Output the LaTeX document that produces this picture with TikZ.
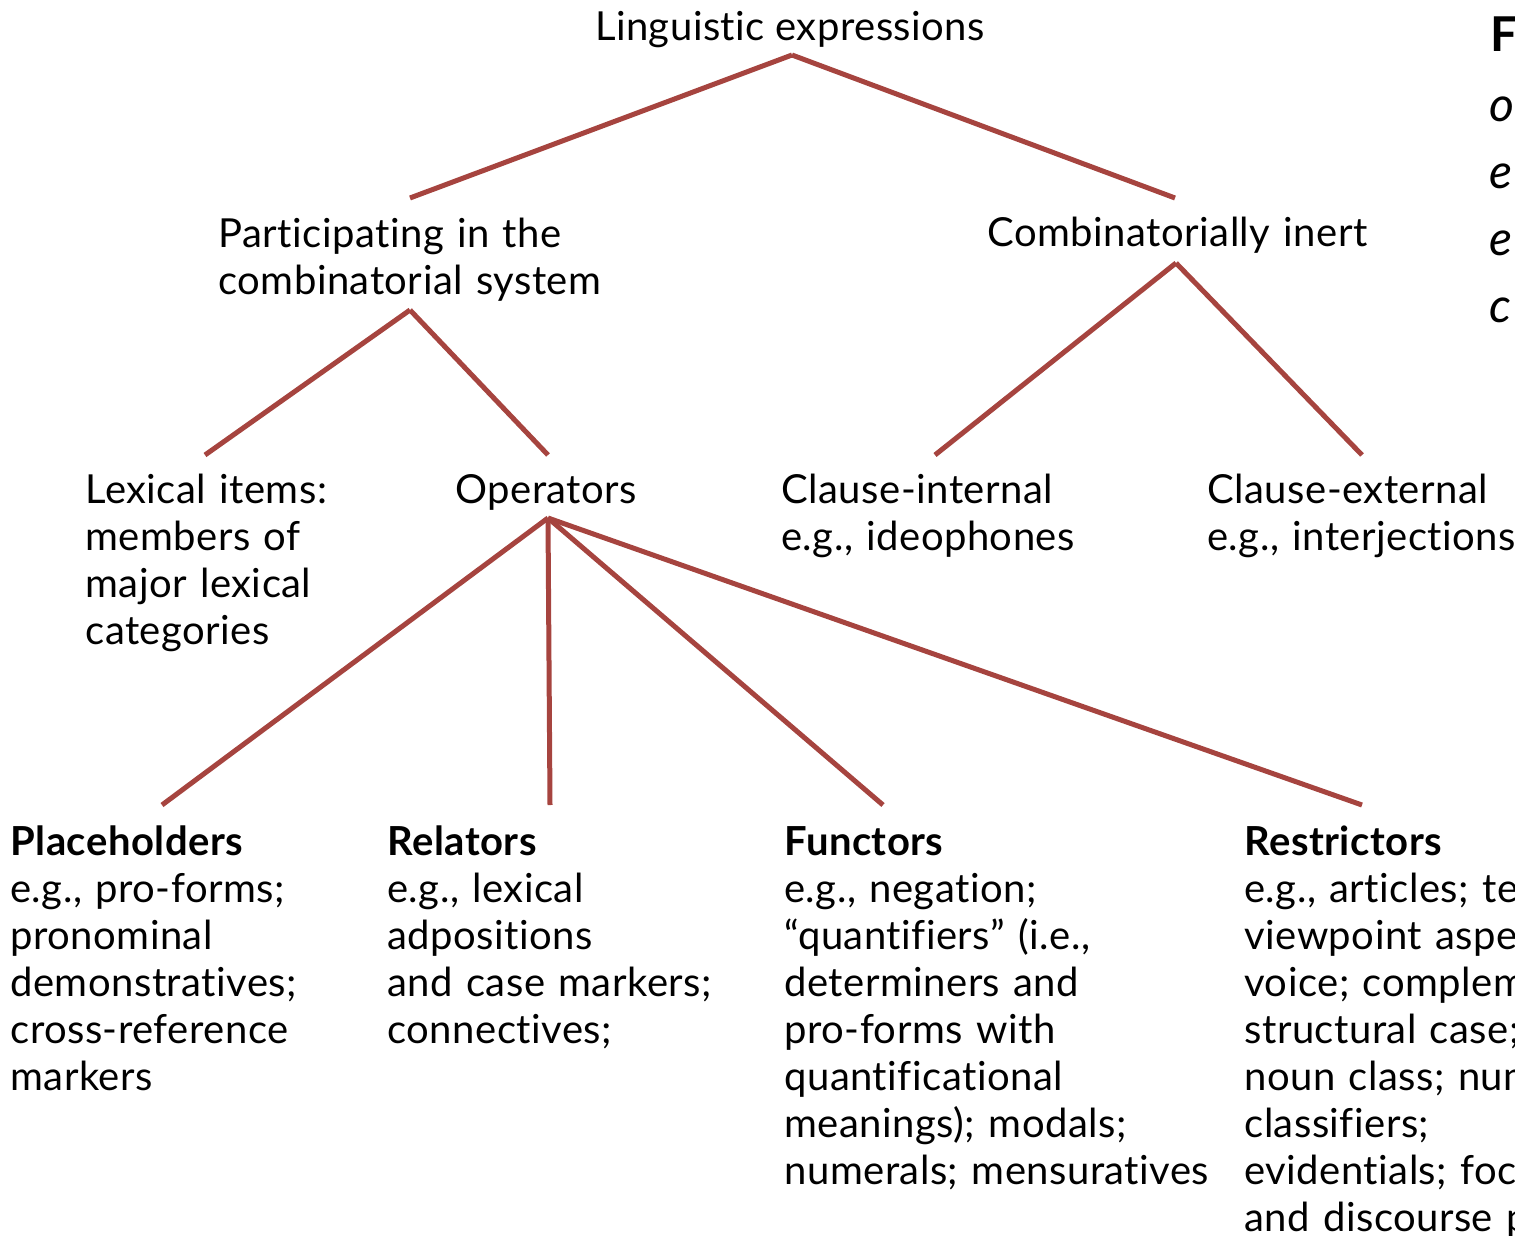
\documentclass[tikz,border=0pt]{standalone}
\usepackage{fontspec}
\setmainfont{Lato}[Ligatures=NoCommon, LetterSpace=1.2]
\usetikzlibrary{calc}
\definecolor{branch}{HTML}{A6443F}
\tikzset{
  lbl/.style={inner sep=0pt, anchor=base west, align=left, text width=#1,
    font=\fontsize{20pt}{23.5pt}\selectfont},
  lbl/.default=220pt,
  edge/.style={draw=branch, line width=2.5pt},
}
\begin{document}
\begin{tikzpicture}[x=0.5pt, y=-0.5pt]
\useasboundingbox (0,0) rectangle (1515,1236);
\clip (0,0) rectangle (1515,1236);

% tree labels
\node[inner sep=0pt, anchor=base, font=\fontsize{20pt}{23.5pt}\selectfont] (root) at (790,41) {Linguistic expressions};
\node[lbl] (part) at (218,247) {Participating in the\\combinatorial system};
\node[lbl] (inert) at (987,246) {Combinatorially inert};
\node[lbl] (lex) at (85,503) {Lexical items:\\members of\\major lexical\\categories};
\node[lbl] (ops) at (455,503) {Operators};
\node[lbl] (cin) at (781,503) {Clause-internal\\e.g., ideophones};
\node[lbl] (cex) at (1207,503) {Clause-external\\e.g., interjections};
\node[lbl] (plc) at (10,855) {\textbf{Placeholders}\\e.g., pro-forms;\\pronominal\\demonstratives;\\cross-reference\\markers};
\node[lbl] (rel) at (387,855) {\textbf{Relators}\\e.g., lexical\\adpositions\\and case markers;\\connectives;};
\node[lbl=240pt] (fun) at (784,855) {\textbf{Functors}\\e.g., negation;\\“quantifiers” (i.e.,\\determiners and\\pro-forms with\\quantificational\\meanings); modals;\\numerals; mensuratives};
\node[lbl=240pt] (res) at (1244,855) {\textbf{Restrictors}\\e.g., articles; tense;\\viewpoint aspect;\\voice; complementizers;\\structural case;\\noun class; number;\\classifiers;\\evidentials; focus\\and discourse particles};

% caption column running off the right edge
\node[inner sep=0pt, anchor=base west, font=\fontsize{24pt}{24pt}\selectfont\bfseries] (capF) at (1490,52) {F};
\node[inner sep=0pt, anchor=base west, text width=40pt, align=left,
      font=\fontsize{24pt}{33.5pt}\selectfont\itshape] (capT) at (1489,121) {o\\e\\e\\c};

% branches
\draw[edge] ($(root.base)+(2,14)$) -- ($(part.base west)+(192,-49)$);
\draw[edge] ($(root.base)+(2,14)$) -- ($(inert.base west)+(188,-48)$);
\draw[edge] ($(part.base west)+(192,63)$) -- ($(lex.base west)+(120,-48)$);
\draw[edge] ($(part.base west)+(192,63)$) -- ($(ops.base west)+(93,-48)$);
\draw[edge] ($(inert.base west)+(189,17)$) -- ($(cin.base west)+(154,-48)$);
\draw[edge] ($(inert.base west)+(189,17)$) -- ($(cex.base west)+(155,-48)$);
\draw[edge] ($(ops.base west)+(93,15)$) -- ($(plc.base west)+(152,-50)$);
\draw[edge] ($(ops.base west)+(93,15)$) -- ($(rel.base west)+(163,-50)$);
\draw[edge] ($(ops.base west)+(93,15)$) -- ($(fun.base west)+(99,-50)$);
\draw[edge] ($(ops.base west)+(93,15)$) -- ($(res.base west)+(118,-50)$);
\end{tikzpicture}
\end{document}
